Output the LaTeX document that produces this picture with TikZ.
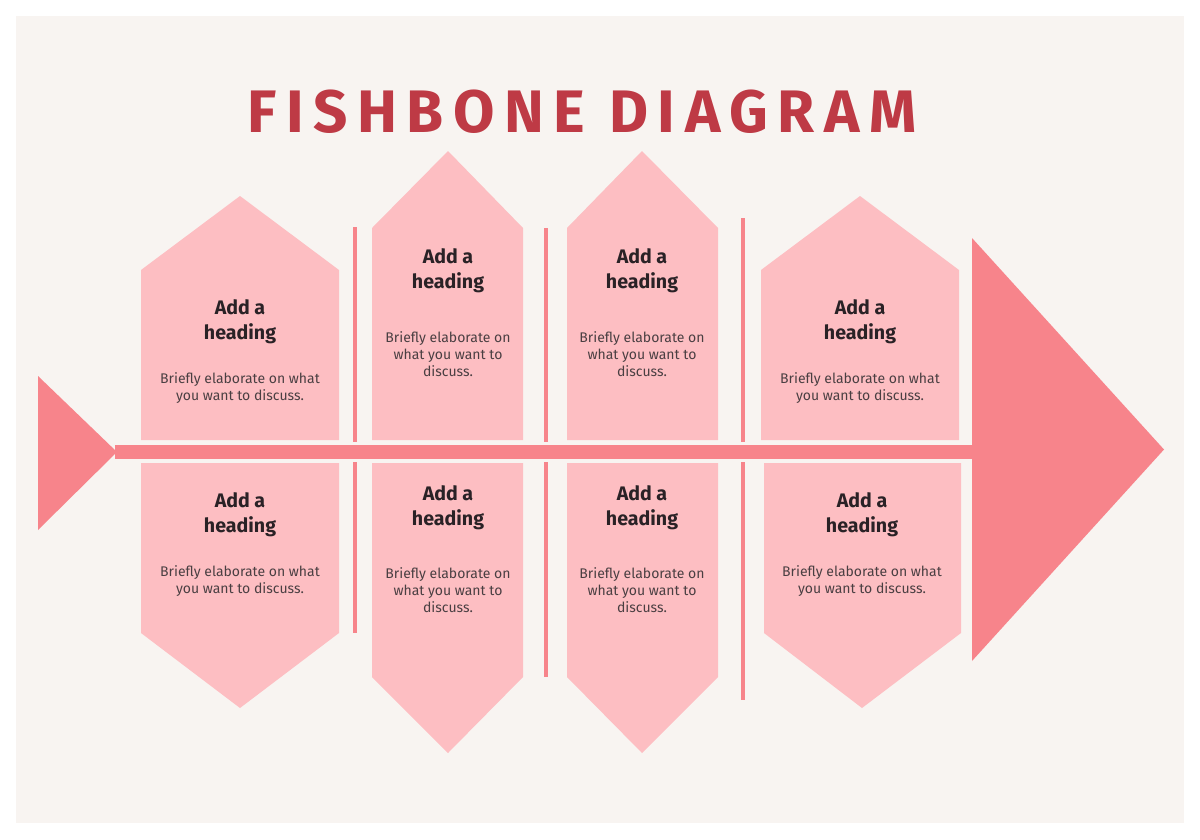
\documentclass[tikz,border=0pt]{standalone}
\usepackage{fontspec}
\setmainfont{Fira Sans}
\definecolor{bgc}{HTML}{F8F4F1}
\definecolor{boxc}{HTML}{FDBEC2}
\definecolor{spinec}{HTML}{F7848B}
\definecolor{titlec}{HTML}{BE3A45}
\definecolor{headc}{HTML}{2A2226}
\definecolor{bodyc}{HTML}{4A3F42}
\begin{document}
\begin{tikzpicture}[x=1pt,y=-1pt,
  boxfill/.style={fill=boxc},
  bone/.style={fill=spinec},
  divider/.style={draw=spinec,line width=3.5pt},
  headtext/.style={anchor=base,align=center,inner sep=0pt,text=headc,font=\fontsize{19.6}{25}\selectfont\bfseries},
  bodytext/.style={anchor=base,align=center,inner sep=0pt,text=bodyc,font=\fontsize{14}{17}\selectfont},
  titletext/.style={anchor=base,inner sep=0pt,text=titlec,font=\fontsize{60}{60}\selectfont\bfseries\addfontfeatures{LetterSpace=16}}]
\useasboundingbox (0,0) rectangle (1200,839);
\fill[white] (0,0) rectangle (1200,839);
\fill[bgc] (16,16) rectangle (1184,823);
% title
\node[titletext] (title) at (582,132) {FISHBONE DIAGRAM};
% spine, tail, head
\fill[bone] (115,445) rectangle (973,459);
\fill[bone] (38,376) -- (117,452) -- (38,530) -- cycle;
\fill[bone] (972,238) -- (1164,449.5) -- (972,661) -- cycle;
% upper boxes
\fill[boxfill] (141,440) -- (141,270) -- (240,196) -- (339,270) -- (339,440) -- cycle;
\fill[boxfill] (372,440) -- (372,228) -- (448,151) -- (523,228) -- (523,440) -- cycle;
\fill[boxfill] (567,440) -- (567,228) -- (642,151) -- (718,228) -- (718,440) -- cycle;
\fill[boxfill] (761,440) -- (761,270) -- (860,196) -- (959,270) -- (959,440) -- cycle;
% lower boxes
\fill[boxfill] (141,463) -- (141,633) -- (240,708) -- (339,633) -- (339,463) -- cycle;
\fill[boxfill] (372,463) -- (372,677) -- (448,753) -- (523,677) -- (523,463) -- cycle;
\fill[boxfill] (567,463) -- (567,677) -- (642,753) -- (718,677) -- (718,463) -- cycle;
\fill[boxfill] (764,463) -- (764,633) -- (862,708) -- (961,633) -- (961,463) -- cycle;
% dividers
\draw[divider] (355,227) -- (355,442);
\draw[divider] (355,462) -- (355,633);
\draw[divider] (546,228) -- (546,442);
\draw[divider] (546,462) -- (546,677);
\draw[divider] (743,218) -- (743,442);
\draw[divider] (743,462) -- (743,700);
% texts (base anchor = baseline of last line)
\node[headtext] (h1) at (240,339) {Add a\\heading};
\node[bodytext] (b1) at (240,400) {Briefly elaborate on what\\you want to discuss.};
\node[headtext] (h2) at (448,288) {Add a\\heading};
\node[bodytext] (b2) at (448,376) {Briefly elaborate on\\what you want to\\discuss.};
\node[headtext] (h3) at (642,288) {Add a\\heading};
\node[bodytext] (b3) at (642,376) {Briefly elaborate on\\what you want to\\discuss.};
\node[headtext] (h4) at (860,339) {Add a\\heading};
\node[bodytext] (b4) at (860,400) {Briefly elaborate on what\\you want to discuss.};
\node[headtext] (h5) at (240,532) {Add a\\heading};
\node[bodytext] (b5) at (240,593) {Briefly elaborate on what\\you want to discuss.};
\node[headtext] (h6) at (448,525) {Add a\\heading};
\node[bodytext] (b6) at (448,612) {Briefly elaborate on\\what you want to\\discuss.};
\node[headtext] (h7) at (642,525) {Add a\\heading};
\node[bodytext] (b7) at (642,612) {Briefly elaborate on\\what you want to\\discuss.};
\node[headtext] (h8) at (862,532) {Add a\\heading};
\node[bodytext] (b8) at (862,593) {Briefly elaborate on what\\you want to discuss.};
\end{tikzpicture}
\end{document}
